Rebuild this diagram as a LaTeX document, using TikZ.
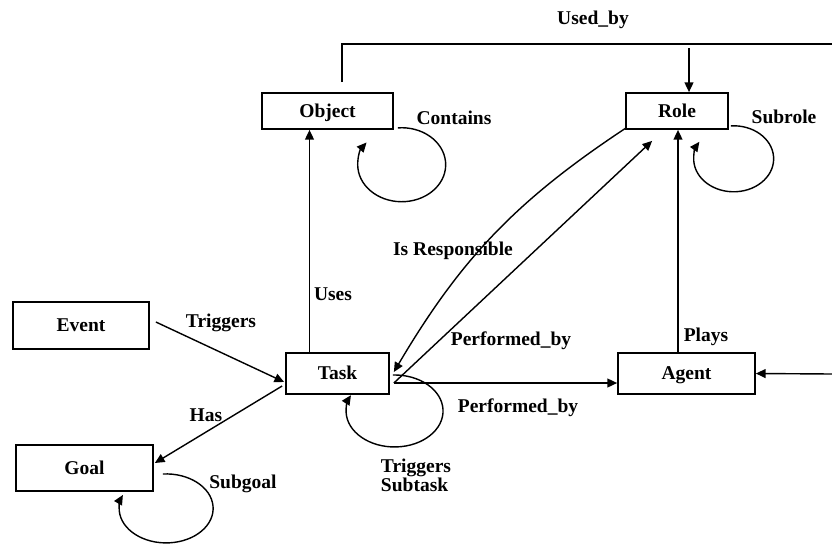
\documentclass[tikz,border=0pt]{standalone}
\usepackage{fontspec}
\setmainfont{Liberation Serif}
\usetikzlibrary{arrows.meta}

\begin{document}
\begin{tikzpicture}[x=0.02cm, y=0.02cm,
        every node/.style={font=\fontsize{11.1}{10.8}\selectfont\bfseries},
        box/.style={draw, line width=1pt, inner sep=0pt, text height=1.6ex, text depth=0pt},
        lbl/.style={inner sep=0pt},
        wire/.style={line width=0.8pt},
        link/.style={wire, -{Triangle[length=5.5pt, width=5pt]}}]
        \useasboundingbox (0,0) rectangle (832,-545);

        % Boxes
        \node[box, minimum width=2.62cm, minimum height=0.72cm] (object) at (327.5,-111) {Object};
        \node[box, minimum width=2.04cm, minimum height=0.72cm] (role) at (677,-111) {Role};
        \node[box, minimum width=2.72cm, minimum height=0.94cm] (event) at (81,-325.5) {Event};
        \node[box, minimum width=2.06cm, minimum height=0.82cm] (task) at (337.5,-373.5) {Task};
        \node[box, minimum width=2.74cm, minimum height=0.82cm] (agent) at (686.5,-373.5) {Agent};
        \node[box, minimum width=2.74cm, minimum height=0.92cm] (goal) at (84.5,-468) {Goal};

        % Labels
        \node[lbl] (usedby) at (593,-20) {Used\_by};
        \node[lbl] (contains) at (454,-118) {Contains};
        \node[lbl] (subrole) at (784,-117) {Subrole};
        \node[lbl] (isresp) at (453,-251) {Is Responsible};
        \node[lbl] (uses) at (333,-294) {Uses};
        \node[lbl] (perfup) at (511,-341) {Performed\_by};
        \node[lbl] (plays) at (706,-337) {Plays};
        \node[lbl] (triggers) at (221,-323) {Triggers};
        \node[lbl] (perflow) at (518,-408) {Performed\_by};
        \node[lbl] (has) at (206,-415) {Has};
        \node[lbl] (subgoal) at (243,-484) {Subgoal};
        \node[lbl, align=left] (subtask) at (416,-475) {Triggers\\Subtask};

        % Free ends
        \coordinate (usedend) at (832,-44);
        \coordinate (usedtap) at (689,-48);
        \coordinate (agentin) at (832,-374);
        \coordinate (tout) at ([shift={(4,-9.5)}]task.east);

        % Connections
        \draw[wire] ([shift={(14.5,10)}]object.north) |- (usedend);
        \draw[link] (usedtap) -- (usedtap |- role.north);
        \draw[link] ([shift={(-28,0)}]task.north) -- ([shift={(-28,0)}]task.north |- object.south);
        \draw[link] ([shift={(-8.5,0)}]agent.north) -- ([shift={(-8.5,0)}]agent.north |- role.south);
        \draw[link] ([shift={(1,2)}]role.south west) to[bend right=13] ([shift={(4,1.5)}]task.east);
        \draw[link] (tout) -- ([shift={(27,-11)}]role.south west);
        \draw[link] (tout) -- (tout -| agent.west);
        \draw[link] (agentin) -- (agent.east);
        \draw[link] ([shift={(6,3.5)}]event.east) -- ([shift={(-1,-8.5)}]task.west);
        \draw[link] ([shift={(-3,-12.5)}]task.west) -- ([shift={(1,5)}]goal.east);

        % Self loops
        \draw[link] ([shift={(4,2)}]object.south east) arc[start angle=95, end angle=-217, x radius=0.88cm, y radius=0.74cm];
        \draw[link] ([shift={(2,4)}]role.south east) arc[start angle=94, end angle=-211, x radius=0.8cm, y radius=0.66cm];
        \draw[link] ([shift={(3,-1.5)}]task.east) arc[start angle=92, end angle=-206, x radius=0.97cm, y radius=0.72cm];
        \draw[link] ([shift={(9,-6)}]goal.east) arc[start angle=94, end angle=-203, x radius=0.94cm, y radius=0.69cm];
    \end{tikzpicture}
\end{document}
